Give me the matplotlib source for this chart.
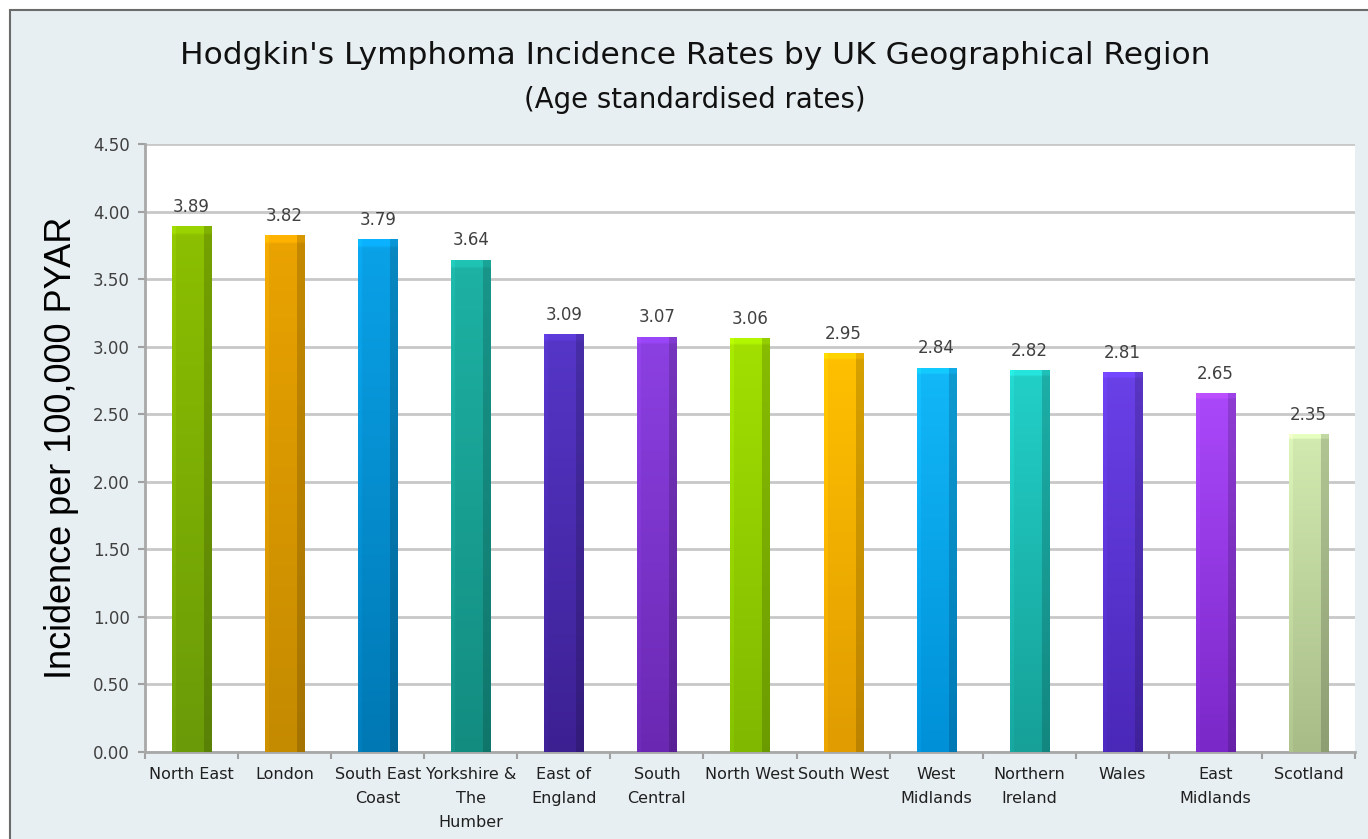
import numpy as np
import matplotlib
matplotlib.use("Agg")
import matplotlib.pyplot as plt
from matplotlib.colors import to_rgb
from matplotlib.patches import Rectangle

regions = ["North East", "London", "South East\nCoast", "Yorkshire &\nThe\nHumber",
           "East of\nEngland", "South\nCentral", "North West", "South West",
           "West\nMidlands", "Northern\nIreland", "Wales", "East\nMidlands", "Scotland"]
rates = [3.89, 3.82, 3.79, 3.64, 3.09, 3.07, 3.06, 2.95, 2.84, 2.82, 2.81, 2.65, 2.35]
top_colors = ["#8cc000", "#eaa300", "#0aa2e8", "#1db2a4", "#5536c8", "#8c40e2", "#a2e000",
              "#ffc000", "#12b8f8", "#22d0c8", "#6a40e8", "#aa48fa", "#d2eab0"]
bottom_colors = ["#6a9a08", "#c48a00", "#0078b4", "#138c80", "#3c2092", "#6a28b2", "#80b800",
                 "#e09c00", "#0090d8", "#16a098", "#4a28b8", "#7a28c8", "#a8bc88"]
yticks = [0.0, 0.5, 1.0, 1.5, 2.0, 2.5, 3.0, 3.5, 4.0, 4.5]

bg = "#e8eff2"
fig = plt.figure(figsize=(13.68, 8.39), dpi=100)
fig.patch.set_facecolor("white")
fig.patches.append(Rectangle((10/1368, -0.01), 1.02, 1 - 10/839 + 0.01, transform=fig.transFigure,
                             facecolor=bg, edgecolor="#6b6b6b", linewidth=1.5, zorder=-10))

ax = fig.add_axes([145/1368, 1 - 752/839, 1210/1368, (752 - 144)/839])
ax.set_facecolor("white")
x = np.arange(len(rates))
w = 0.42
bars = ax.bar(x, rates, width=w, color="none", edgecolor="none", zorder=3)

for i, (b, v) in enumerate(zip(bars, rates)):
    tc = np.array(to_rgb(top_colors[i]))
    bc = np.array(to_rgb(bottom_colors[i]))
    ny, nx = 200, 40
    t = np.linspace(0, 1, ny)[:, None, None]
    img = tc * (1 - t) + bc * t
    img = np.repeat(img, nx, axis=1)
    xs = np.linspace(0, 1, nx)
    shade = np.ones(nx)
    shade[xs > 0.82] = 0.84
    shade[xs < 0.08] = 1.05
    img = np.clip(img * shade[None, :, None], 0, 1)
    img[:3, :, :] = np.clip(img[:3, :, :] * 1.1, 0, 1)
    ax.imshow(img, extent=(b.get_x(), b.get_x() + b.get_width(), 0, v), aspect="auto",
              origin="upper", zorder=3, interpolation="bilinear")
    ax.text(b.get_x() + b.get_width() / 2, v + 0.08, f"{v:.2f}", ha="center", va="bottom",
            fontsize=12, color="#404040", family="DejaVu Sans", zorder=4)

ax.set_xlim(-0.5, len(rates) - 0.5)
ax.set_ylim(0, 4.5)
ax.set_yticks(yticks)
ax.set_yticklabels([f"{v:.2f}" for v in yticks], fontsize=12, color="#404040")
ax.set_xticks(x)
ax.set_xticklabels(regions, fontsize=11.5, color="#202020", linespacing=1.75)
ax.set_xticks(np.arange(len(rates) + 1) - 0.5, minor=True)
ax.tick_params(axis="x", which="major", length=0, pad=11)
ax.tick_params(axis="x", which="minor", length=5, color="#a0a0a0", width=1.5)
ax.tick_params(axis="y", length=5, color="#a0a0a0", width=1.5, pad=6)
ax.grid(axis="y", color="#c8c8c8", linewidth=2, zorder=1)
ax.set_axisbelow(True)
for s in ["top", "right"]:
    ax.spines[s].set_visible(False)
for s in ["left", "bottom"]:
    ax.spines[s].set_color("#a8a8a8")
    ax.spines[s].set_linewidth(2)

ax.set_ylabel("Incidence per 100,000 PYAR", fontsize=26, family="Liberation Sans",
              color="black", labelpad=10)
fig.text(0.508, 1 - 55/839, "Hodgkin's Lymphoma Incidence Rates by UK Geographical Region",
         ha="center", va="center", fontsize=22.5, color="#111111")
fig.text(0.508, 1 - 100/839, "(Age standardised rates)", ha="center", va="center",
         fontsize=19.8, color="#111111")

fig.savefig("out.png", dpi=100, facecolor=fig.get_facecolor())
